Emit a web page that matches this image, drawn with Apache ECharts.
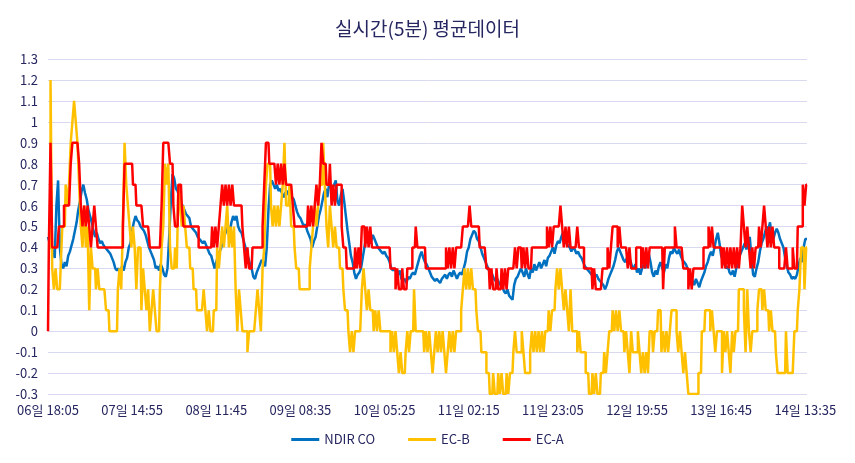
<!DOCTYPE html>
<html><head><meta charset="utf-8">
<script src="https://cdn.jsdelivr.net/npm/echarts@6/dist/echarts.min.js"></script>
<style>html,body{margin:0;padding:0;background:#fff}#c{width:855px;height:463px}</style>
</head><body><div id="c"></div>
<script>
// time axis: 25-minute steps starting at 06일 18:05 (labels every 50 points)
const startDay = 6, startMinute = 18 * 60 + 5, stepMinutes = 25, pointCount = 452;
const yTicks = [-0.3, 1.3, 0.1]; // min, max, interval

// NDIR CO, hundredths
const ndirCO = [
45,42,40,38,35,60,72,40,32,30,
33,31,36,38,41,44,48,52,58,62,
67,70,66,63,58,55,52,48,45,47,
44,42,43,41,40,40,38,37,35,33,
30,29,30,28,31,29,33,35,40,42,
48,52,55,53,52,50,50,48,46,43,
40,38,36,34,30,31,29,32,30,27,
26,30,45,62,75,73,68,67,64,61,
60,58,56,55,54,50,49,48,47,45,
44,43,42,43,41,39,37,36,33,30,
33,36,38,40,44,46,48,50,47,52,
55,53,55,50,48,47,44,41,38,35,
32,30,26,25,28,30,32,34,33,31,
40,58,70,72,70,68,70,67,68,66,
64,66,67,65,66,64,63,60,57,55,
54,52,50,51,48,46,44,40,43,45,
50,55,58,62,66,68,64,70,70,68,
70,72,62,60,65,68,62,55,48,42,
36,33,28,25,27,28,30,35,40,45,
44,42,43,46,44,42,40,39,38,37,
38,36,35,33,30,29,30,28,27,29,
25,24,25,23,26,25,27,28,27,30,
33,36,38,35,33,32,30,28,26,25,
24,25,24,23,25,26,27,25,27,28,
26,29,27,25,27,28,27,30,33,38,
40,44,46,48,47,44,43,40,37,35,
33,31,29,28,27,25,24,25,23,22,
21,19,18,20,17,16,15,22,25,26,
28,30,28,26,30,27,25,30,28,32,
29,31,33,30,32,34,31,35,36,38,
40,37,41,43,42,45,47,44,42,41,
40,38,40,39,37,38,36,35,33,31,
30,29,28,27,29,26,27,25,24,23,
22,20,22,25,27,29,31,34,38,40,
38,36,34,33,35,32,34,31,30,32,
28,30,27,30,32,30,34,37,33,28,
26,29,27,31,33,30,28,32,30,35,
38,37,40,38,37,39,36,34,33,32,
30,28,26,24,22,25,23,21,24,26,
28,31,33,36,38,36,40,44,47,42,
36,34,32,30,31,28,27,29,26,30,
33,36,38,40,42,39,42,45,35,27,
26,30,33,38,42,44,47,50,48,52,
46,44,47,49,47,44,42,40,35,31,
28,27,25,26,25,27,31,35,33,40,
44,44
];

// EC-B, tenths
const ecB = [
4,4,12,3,2,3,2,2,3,5,
5,7,6,7,9,10,11,10,9,7,
5,4,6,4,5,1,4,3,3,2,
3,2,2,2,2,1,1,0,0,0,
0,0,2,3,2,5,9,7,6,5,
4,5,4,2,4,4,1,3,2,1,
2,0,1,2,1,0,0,2,4,5,
8,7,8,4,3,3,4,3,7,6,
5,6,5,4,4,3,3,2,2,1,
1,1,1,2,1,0,1,0,0,1,
1,4,3,4,5,4,5,6,4,5,
4,5,2,0,2,1,0,0,0,-1,
0,0,0,0,1,2,1,0,3,4,
7,8,8,6,5,6,5,6,5,6,
7,9,6,6,7,5,5,4,3,3,
2,2,2,2,2,2,3,4,5,6,
5,6,7,7,9,7,5,4,6,5,
4,5,4,4,3,3,2,1,1,0,
-1,0,-1,0,0,0,0,2,3,2,
1,2,1,1,0,1,0,1,0,0,
0,0,0,0,-1,0,-1,0,-1,-2,
-1,-2,-2,-1,0,-1,0,0,2,0,
0,0,0,0,-1,0,-1,0,-1,-2,
-1,0,-1,0,-1,0,-1,-2,-1,0,
-1,0,-1,0,0,0,1,2,3,2,
3,2,3,2,2,1,0,0,-1,-1,
-1,-2,-2,-3,-3,-2,-3,-3,-2,-3,
-2,-3,-3,-2,-3,-2,-2,-1,0,-1,
-1,-1,0,-1,-2,-2,-2,-1,0,-1,
0,-1,0,-1,0,-1,0,0,1,0,
1,1,2,3,2,3,2,1,2,1,
0,2,0,0,0,-1,0,-1,-1,-1,
-2,-2,-3,-3,-2,-3,-2,-3,-3,-2,
-2,-1,-2,-1,0,0,1,0,1,0,
1,0,0,-1,0,-1,-2,0,-1,-1,
-1,0,-1,-2,-1,-2,-1,-2,0,0,
-1,0,0,1,1,-1,0,-1,0,-1,
0,1,1,1,0,-1,0,-1,-2,-1,
-2,-3,-3,-3,-3,-3,-3,-2,-2,0,
0,1,1,1,0,1,0,-1,0,0,
0,-2,0,-1,0,-1,-2,0,-1,0,
0,2,2,2,1,-1,2,0,-1,0,
0,0,1,2,2,1,2,1,1,0,
1,0,0,-1,-2,-2,-2,-2,-2,0,
-2,-2,-2,-2,0,0,1,2,4,4,
2,4
];

// EC-A, tenths
const ecA = [
0,4,9,4,4,4,4,5,5,5,
6,6,6,6,8,9,9,9,9,8,
6,5,6,5,6,5,4,5,6,5,
4,4,4,4,4,4,4,4,4,4,
4,4,4,4,4,5,8,8,8,8,
8,7,7,6,6,6,6,5,5,5,
5,4,4,4,4,4,4,4,6,9,
9,9,9,8,8,6,5,5,7,7,
6,5,5,5,5,5,5,5,5,5,
4,4,4,4,4,4,4,4,5,4,
5,4,5,6,7,6,7,6,7,6,
7,6,6,6,6,6,5,4,3,4,
3,3,4,4,4,4,4,4,5,7,
9,9,8,8,8,8,7,8,7,8,
7,8,7,7,7,7,6,5,5,5,
5,5,5,5,5,6,5,6,5,6,
7,6,7,9,8,8,7,7,8,6,
7,6,7,7,7,5,4,4,3,3,
3,3,3,4,3,4,3,5,5,4,
5,4,5,4,4,4,4,4,4,4,
4,4,4,4,3,3,3,2,3,2,
2,3,2,2,3,3,3,4,4,5,
4,4,4,4,4,3,3,3,3,3,
3,3,3,3,3,3,3,4,3,4,
3,4,3,4,4,4,4,5,5,5,
5,6,5,5,5,5,5,4,4,4,
4,3,3,2,3,2,2,3,2,2,
3,2,3,2,3,3,3,3,4,3,
4,4,3,4,3,4,3,3,4,4,
4,4,4,4,4,4,4,5,4,5,
4,5,5,5,5,6,5,4,5,4,
5,4,4,4,4,5,4,4,4,3,
3,3,3,3,2,3,2,2,2,2,
3,3,3,4,3,4,5,5,5,4,
5,4,4,4,4,3,4,3,3,3,
4,4,4,3,4,3,4,3,4,4,
4,4,4,4,4,4,2,4,4,4,
4,4,4,5,4,4,4,4,3,3,
3,2,3,2,3,3,3,3,3,3,
4,4,4,5,4,5,4,4,4,4,
4,3,4,3,4,3,4,3,4,3,
4,3,4,6,5,4,5,4,3,4,
3,4,4,5,4,5,6,5,4,5,
4,5,4,4,4,3,3,3,3,4,
3,3,3,4,3,3,5,5,5,7,
6,7
];

function pad(n) { return (n < 10 ? '0' : '') + n; }
const categories = [];
for (let i = 0; i < pointCount; i++) {
  const t = startMinute + i * stepMinutes;
  const day = startDay + Math.floor(t / 1440);
  const m = t % 1440;
  categories.push(pad(day) + '일 ' + pad(Math.floor(m / 60)) + ':' + pad(m % 60));
}

const txt = '#262660';
const font = '"Noto Sans CJK KR", "Noto Sans", sans-serif';
const chart = echarts.init(document.getElementById('c'), null, { renderer: 'canvas' });
chart.setOption({
  animation: false,
  backgroundColor: '#ffffff',
  title: {
    text: '실시간(5분) 평균데이터', left: 'center', top: 14,
    textStyle: { color: txt, fontSize: 19, fontWeight: 'normal', fontFamily: font }
  },
  legend: {
    bottom: 12, left: 'center', itemGap: 33, itemWidth: 28, itemHeight: 3, icon: 'rect',
    textStyle: { color: txt, fontSize: 13, fontFamily: font },
    data: ['NDIR CO', 'EC-B', 'EC-A']
  },
  grid: { left: 48, right: 48, top: 59, bottom: 69, containLabel: false },
  xAxis: {
    type: 'category', data: categories, boundaryGap: false,
    axisLine: { show: false }, axisTick: { show: false },
    axisLabel: { interval: 49, color: txt, fontSize: 13, fontFamily: font, margin: 10 },
    splitLine: { show: false }
  },
  yAxis: {
    type: 'value', min: yTicks[0], max: yTicks[1], interval: yTicks[2],
    axisLine: { show: false }, axisTick: { show: false },
    axisLabel: { color: txt, fontSize: 13, fontFamily: font, margin: 10,
      formatter: v => String(+v.toFixed(1)) },
    splitLine: { lineStyle: { color: '#d9d9f0', width: 1 } }
  },
  series: [
    { name: 'NDIR CO', type: 'line', data: ndirCO.map(v => v / 100), showSymbol: false,
      lineStyle: { color: '#0070C0', width: 2.5 }, itemStyle: { color: '#0070C0' } },
    { name: 'EC-B', type: 'line', data: ecB.map(v => v / 10), showSymbol: false, step: 'middle',
      lineStyle: { color: '#FFC000', width: 2.5 }, itemStyle: { color: '#FFC000' } },
    { name: 'EC-A', type: 'line', data: ecA.map(v => v / 10), showSymbol: false, step: 'middle',
      lineStyle: { color: '#FF0000', width: 2.5 }, itemStyle: { color: '#FF0000' } }
  ]
});
</script></body></html>
